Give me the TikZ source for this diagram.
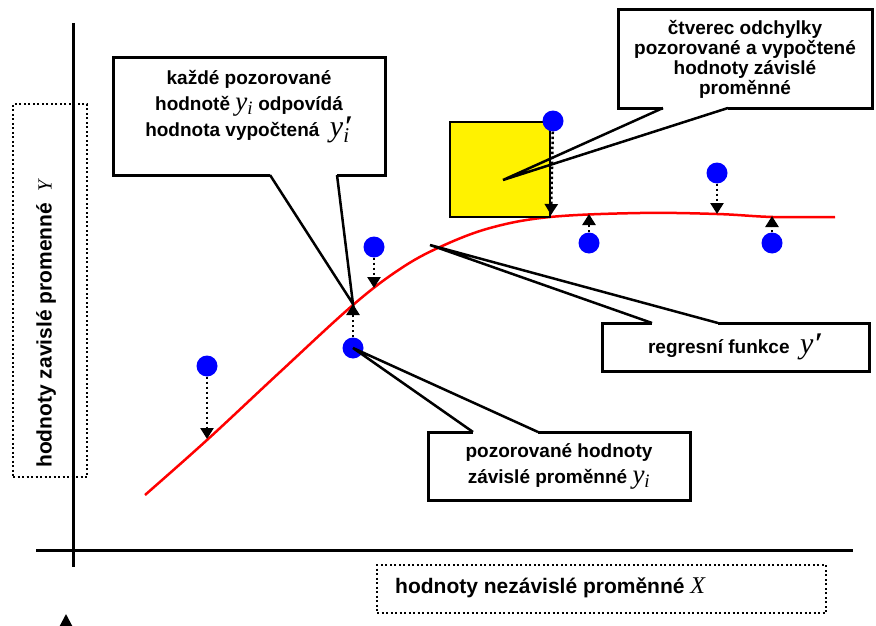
\documentclass[tikz,border=0pt]{standalone}
\usepackage{fontspec}
\setmainfont{Liberation Sans}
\newfontfamily\tnr{Liberation Serif}
\usetikzlibrary{arrows.meta}

\newcommand{\vyi}{{\tnr\mdseries\itshape\fontsize{27}{27}\selectfont y\textsubscript{i}}}
\newcommand{\vyip}{{\tnr\mdseries\itshape\fontsize{30}{30}\selectfont y\rlap{\textsubscript{i}}\kern1pt{\bfseries ′}}}
\newcommand{\vyp}{{\tnr\mdseries\itshape\fontsize{30}{30}\selectfont y\kern1pt{\bfseries ′}}}

\begin{document}
\begin{tikzpicture}[x=1pt,y=-1pt,
  every node/.style={font=\fontsize{19}{20}\selectfont\bfseries},
  callbox/.style={draw,line width=3,fill=white,inner sep=0,outer sep=0,align=center},
  dotframe/.style={draw,line width=2,dash pattern=on 2pt off 2.5pt,inner sep=0},
  bluedot/.style={circle,fill=blue,minimum size=21,inner sep=0},
  gap/.style={line width=2.5,dash pattern=on 2.5pt off 2.5pt,-{Triangle[width=13pt,length=11pt]}},
  ptr/.style={line width=2.5,line join=miter},
  wipe/.style={white,line width=5}]

\useasboundingbox (0,0) rectangle (876,626);

% axes
\draw[line width=3] (73,23) -- (73,567);
\draw[line width=3] (36,550) -- (853,550);
\draw[line width=2,-{Triangle[width=12pt,length=12pt]}] (66,660) -- (66,614);

% axis labels
\node[dotframe,minimum width=74,minimum height=373] (ybox) at (50,290.5) {};
\node[rotate=90,anchor=west,inner sep=0,font=\fontsize{21}{22}\selectfont\bfseries] (ylab) at (46,468) {hodnoty zavislé promenné \ {\tnr\mdseries\itshape\fontsize{20}{20}\selectfont Y}};
\node[dotframe,minimum width=449,minimum height=48] (xbox) at (601.5,589) {};
\node[anchor=west,inner sep=0,font=\fontsize{21}{22}\selectfont\bfseries] (xlab) at (395,588) {hodnoty nezávislé proměnné {\tnr\mdseries\itshape\fontsize{24}{24}\selectfont X}};

% regression curve
\draw[red,line width=2.5] plot[smooth,tension=0.6] coordinates {(145,495) (207,440) (280,372) (353,305) (400,269) (440,247) (490,228) (550,217) (640,213) (717,214) (773,217) (835,217)};

\coordinate (c1) at (207,439);
\coordinate (c2) at (374,288);
\coordinate (c3) at (353,304);
\coordinate (c4) at (551,215);
\coordinate (c5) at (589,214);
\coordinate (c6) at (717,214);
\coordinate (c7) at (772,216);
\coordinate (regtip) at (430,245);
\coordinate (sqtip) at (503,180);

% square of the deviation
\node[draw,fill=yellow,line width=2.5,minimum width=100,minimum height=95,inner sep=0] (sq) at (500,169.5) {};

% observed values
\node[bluedot] (d1) at (207,366) {};
\node[bluedot] (d2) at (374,247) {};
\node[bluedot] (d3) at (353,348) {};
\node[bluedot] (d4) at (553,121) {};
\node[bluedot] (d5) at (717,173) {};
\node[bluedot] (d6) at (589,243) {};
\node[bluedot] (d7) at (772,243) {};

\draw[gap] (d1) -- (c1);
\draw[gap] (d2) -- (c2);
\draw[gap] (d3) -- (c3);
\draw[gap] (d4) -- (c4);
\draw[gap] (d5) -- (c6);
\draw[gap] (d6) -- (c5);
\draw[gap] (d7) -- (c7);

% callouts
\node[callbox,minimum width=272,minimum height=117] (callA) at (249,116.5) {};
\node[align=center,font=\fontsize{19}{26}\selectfont\bfseries] (textA) at (249,107) {každé pozorované\\hodnotě \vyi{} odpovídá\\hodnota vypočtená \ \vyip};
\draw[wipe] ([xshift=157]callA.south west) -- ([xshift=224]callA.south west);
\draw[ptr] ([xshift=157]callA.south west) -- (c3) -- ([xshift=224]callA.south west);

\node[callbox,minimum width=254,minimum height=98] (callB) at (745,59) {čtverec odchylky\\pozorované a vypočtené\\hodnoty závislé\\proměnné};
\draw[wipe] ([xshift=45]callB.south west) -- ([xshift=110]callB.south west);
\draw[ptr] ([xshift=45]callB.south west) -- (sqtip) -- ([xshift=110]callB.south west);

\node[callbox,minimum width=267,minimum height=48] (callC) at (735.5,347) {regresní funkce \ \vyp};
\draw[wipe] ([xshift=50]callC.north west) -- ([xshift=116]callC.north west);
\draw[ptr] ([xshift=50]callC.north west) -- (regtip) -- ([xshift=116]callC.north west);

\node[callbox,minimum width=262,minimum height=68,font=\fontsize{19}{26}\selectfont\bfseries] (callD) at (559,466) {pozorované hodnoty\\závislé proměnné \vyi};
\draw[wipe] ([xshift=45]callD.north west) -- ([xshift=110]callD.north west);
\draw[ptr] ([xshift=45]callD.north west) -- (d3.center) -- ([xshift=110]callD.north west);

\end{tikzpicture}
\end{document}
